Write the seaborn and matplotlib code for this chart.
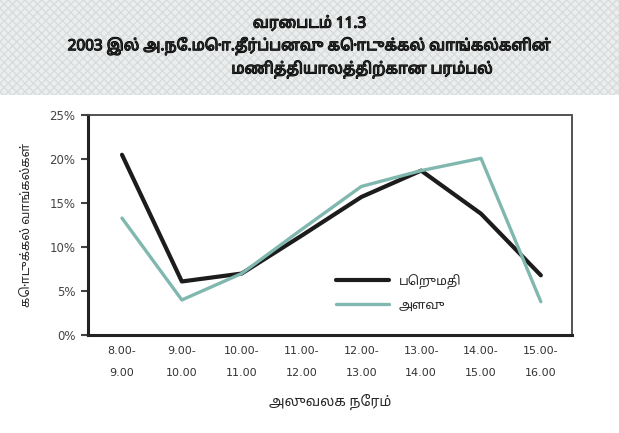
import matplotlib
matplotlib.use('Agg')
import matplotlib.pyplot as plt
import matplotlib.ticker as mticker
import matplotlib.patheffects as pe
from matplotlib.patches import Rectangle
import seaborn as sns
import pandas as pd

# hourly buckets (office hours)
HOURS = ['8.00-\n9.00', '9.00-\n10.00', '10.00-\n11.00', '11.00-\n12.00',
         '12.00-\n13.00', '13.00-\n14.00', '14.00-\n15.00', '15.00-\n16.00']
VALUE_PCT = [20.5, 6.1, 7.0, 11.3, 15.7, 18.7, 13.8, 6.8]    # பெறுமதி
VOLUME_PCT = [13.3, 4.0, 7.0, 12.0, 16.9, 18.7, 20.1, 3.8]   # அளவு
SERIES = ['பெறுமதி', 'அளவு']
COLORS = ['#1c1c1c', '#80b8b0']

TITLE_1 = 'வரைபடம் 11.3'
TITLE_2 = '2003 இல் அ.நே.மொ.தீர்ப்பனவு கொடுக்கல் வாங்கல்களின்'
TITLE_3 = 'மணித்தியாலத்திற்கான பரம்பல்'
YLABEL = 'கொடுக்கல் வாங்கல்கள்'
XLABEL = 'அலுவலக நேரம்'

sns.set_style('white')
plt.rcParams['font.family'] = ['DejaVu Sans']
TAMIL = ['Noto Sans Tamil', 'DejaVu Sans']

df = pd.DataFrame({
    'pos': list(range(len(HOURS))) * 2,
    'pct': VALUE_PCT + VOLUME_PCT,
    'series': [SERIES[0]] * len(HOURS) + [SERIES[1]] * len(HOURS),
})

fig = plt.figure(figsize=(6.19, 4.33), dpi=100)
fig.patch.set_facecolor('white')

# textured grey title band
fig.patches.append(Rectangle((0, 0.78), 1, 0.22, transform=fig.transFigure,
                             facecolor='#eceeee', edgecolor='#d8dcdc',
                             hatch='xxxx', linewidth=0, zorder=0))

ax = fig.add_axes([0.142, 0.226, 0.782, 0.508])
sns.lineplot(data=df, x='pos', y='pct', hue='series', hue_order=SERIES,
             palette=COLORS, ax=ax, legend=True)
for line, lw in zip(ax.lines, [3.0, 2.4]):
    line.set_linewidth(lw)

ax.set_xlim(-0.57, 7.52)
ax.set_ylim(0, 25)
ax.set_xticks(range(len(HOURS)))
ax.set_xticklabels(HOURS, linespacing=2.5, fontsize=8, color='#333333')
ax.yaxis.set_major_locator(mticker.MultipleLocator(5))
ax.yaxis.set_major_formatter(mticker.FuncFormatter(lambda v, p: f'{v:.0f}%'))
ax.tick_params(axis='y', labelsize=8.5, colors='#444444', length=5, width=1.5,
               direction='out', left=True, pad=4)
ax.tick_params(axis='x', length=0, pad=8)

for side in ['left', 'bottom']:
    ax.spines[side].set_linewidth(2.2)
    ax.spines[side].set_color('#222222')
for side in ['top', 'right']:
    ax.spines[side].set_linewidth(1.3)
    ax.spines[side].set_linestyle((0, (1, 1)))
    ax.spines[side].set_color('#444444')

ax.set_xlabel(XLABEL, fontsize=10, labelpad=12, family=TAMIL)
ax.set_ylabel(YLABEL, fontsize=9, labelpad=12, family=TAMIL)

handles, labels = ax.get_legend_handles_labels()
ax.legend(handles, labels, loc='upper left', bbox_to_anchor=(0.49, 0.33),
          frameon=False, handlelength=4.2, labelspacing=0.8,
          prop={'family': TAMIL, 'size': 9})
for h, lw in zip(ax.get_legend().get_lines(), [3.0, 2.4]):
    h.set_linewidth(lw)

bold = [pe.withStroke(linewidth=0.8, foreground='black')]
fig.text(0.50, 0.945, TITLE_1, ha='center', va='center', fontsize=11,
         family=TAMIL, path_effects=bold)
fig.text(0.50, 0.893, TITLE_2, ha='center', va='center', fontsize=11,
         family=TAMIL, path_effects=bold)
fig.text(0.585, 0.840, TITLE_3, ha='center', va='center', fontsize=11,
         family=TAMIL, path_effects=bold)

fig.savefig('out.png', dpi=100)
plt.close(fig)
